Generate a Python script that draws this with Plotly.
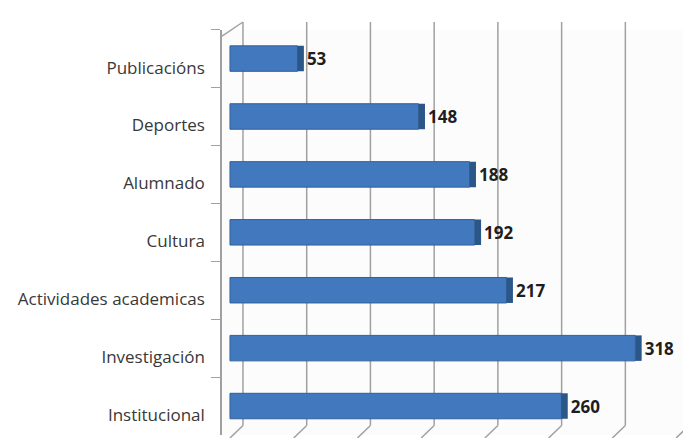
import plotly.graph_objects as go

categories = ["Publicacións", "Deportes", "Alumnado", "Cultura",
              "Actividades academicas", "Investigación", "Institucional"]
values = [53, 148, 188, 192, 217, 318, 260]
x_ticks = [0, 50, 100, 150, 200, 250, 300, 350]

FONT = "Open Sans, sans-serif"
depth = 5.0        # bar side-face thickness (value units)
wall_off = 10.2    # back-wall offset of the gridlines (value units)

fig = go.Figure()
# front faces
fig.add_trace(go.Bar(
    y=categories, x=values, orientation="h",
    marker=dict(color="#4279be", line=dict(color="#2f609c", width=1)),
    showlegend=False, hoverinfo="skip",
))
# side faces + value labels
fig.add_trace(go.Bar(
    y=categories, x=[depth] * len(values), base=values, orientation="h",
    marker=dict(color="#2a5688", line=dict(width=0)),
    text=[f"<b>{v}</b>" for v in values], textposition="outside",
    textfont=dict(family=FONT, size=17, color="#1e1e1e"),
    cliponaxis=False, showlegend=False, hoverinfo="skip",
))

shapes = []
for t in x_ticks:
    # back-wall gridline
    shapes.append(dict(type="line", xref="x", yref="paper", layer="below",
                       x0=t + wall_off, y0=0.03, x1=t + wall_off, y1=1.0,
                       line=dict(color="#a0a0a0", width=1.5)))
    # floor edge
    shapes.append(dict(type="line", xref="x", yref="paper", layer="below",
                       x0=t, y0=0, x1=t + wall_off, y1=0.03,
                       line=dict(color="#a0a0a0", width=1.5)))
# left wall top edge
shapes.append(dict(type="line", xref="x", yref="paper", layer="below",
                   x0=-6.25, y0=0.966, x1=wall_off, y1=1.0,
                   line=dict(color="#a0a0a0", width=1.5)))

# the page body adds an 8px offset, so the figure is sized/placed to compensate
fig.update_layout(
    width=683, height=430,
    margin=dict(l=214, r=0, t=14, b=0, autoexpand=False),
    paper_bgcolor="white", plot_bgcolor="#fcfcfc",
    barmode="overlay", bargap=0.56,
    font=dict(family=FONT, size=17, color="#383838"),
    xaxis=dict(range=[-6.25, 350 + wall_off + 1.5], showgrid=False,
               showticklabels=False, zeroline=False, showline=False,
               automargin=False),
    yaxis=dict(domain=[0.0072, 0.9817], autorange="reversed", type="category",
               showline=True, linecolor="#a0a0a0", linewidth=1.5,
               ticks="outside", tickson="boundaries", ticklen=9,
               tickcolor="#a0a0a0", ticklabelshift=-9, ticklabelstandoff=12,
               showgrid=False, automargin=False),
    shapes=shapes,
)

fig.write_html("out.html")
